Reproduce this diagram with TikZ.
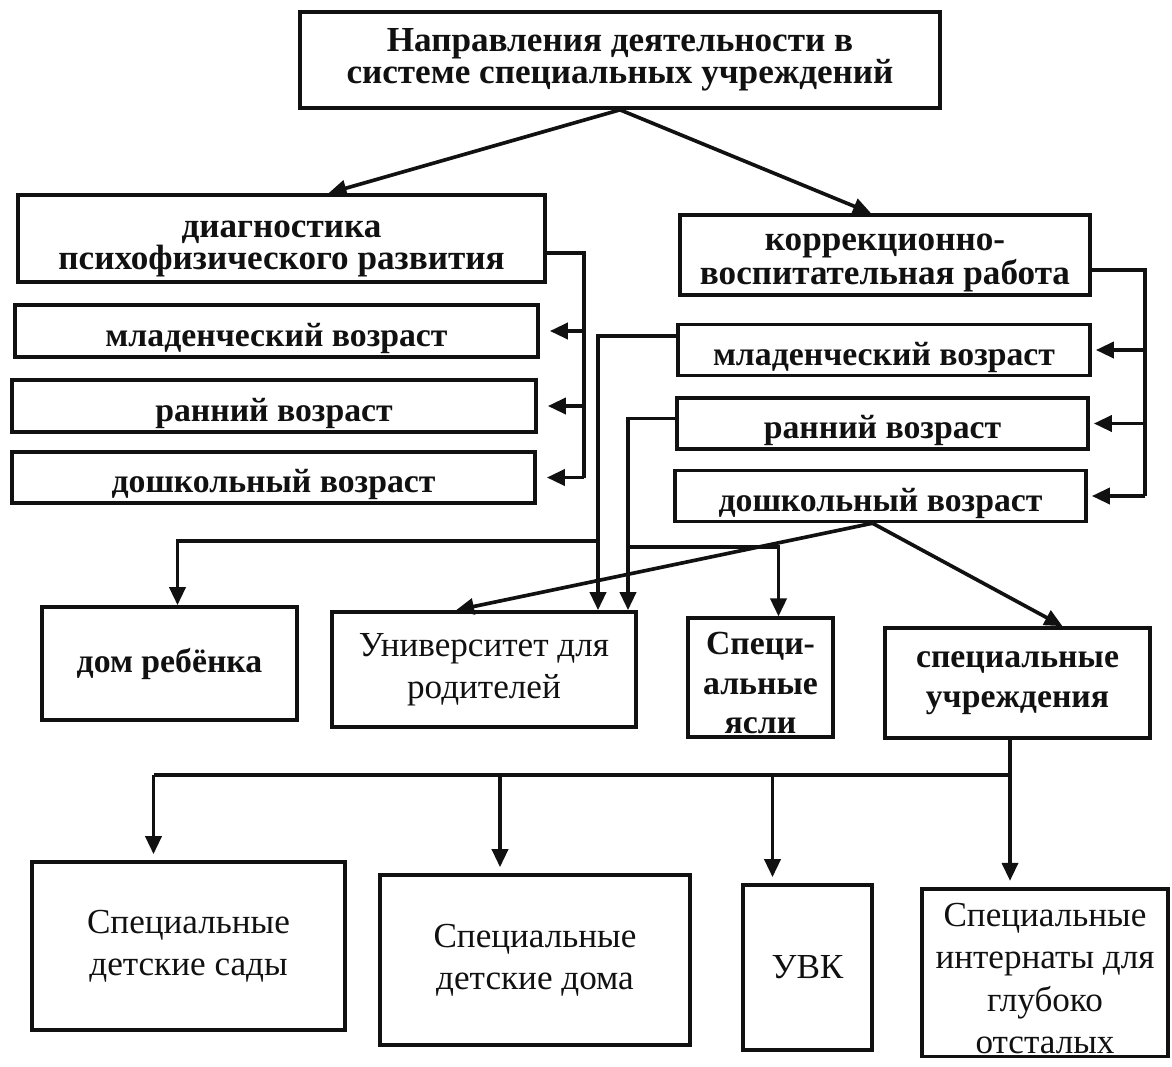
\documentclass[tikz,border=0pt]{standalone}
\usepackage{fontspec}
\setmainfont{Liberation Serif}
\usetikzlibrary{arrows.meta,calc,positioning}
\definecolor{ChartInk}{HTML}{111111}
\definecolor{ChartPaper}{HTML}{FFFFFF}
\tikzset{
  every node/.style={text=ChartInk},
  block/.style={draw=ChartInk, line width=2.6pt, fill=ChartPaper, align=center, inner sep=2pt},
  headbox/.style={block, font=\bfseries\fontsize{25}{23}\selectfont},
  agebox/.style={block, font=\bfseries\fontsize{24}{28}\selectfont,
    execute at begin node={\rule{0pt}{27pt}}},
  servicebox/.style={block, font=\bfseries\fontsize{24}{28}\selectfont},
  placebox/.style={block, font=\fontsize{25}{30}\selectfont},
  link/.style={draw=ChartInk, line width=2.6pt},
  feed/.style={-{Triangle[length=4.5mm,width=4mm]}, draw=ChartInk, line width=2.6pt},
}
\begin{document}
\begin{tikzpicture}[x=0.25mm,y=-0.25mm]
  % 1 unit = 1 pixel of the scan, y runs downwards
  \useasboundingbox (0,0) rectangle (1172,1066);
  \node[headbox, minimum width=160mm, minimum height=24mm] (title) at (620,60)
    {Направления деятельности в\\системе специальных учреждений};
  \node[headbox, minimum width=131.75mm, minimum height=21.75mm] (diag) at (281.5,238.5)
    {\rule{0pt}{27pt}диагностика\\психофизического развития};
  \node[headbox, minimum width=102.5mm, minimum height=20mm] (corr) at (885,255)
    {\rule{0pt}{23pt}коррекционно-\\воспитательная работа};
  % age groups
  \node[agebox, minimum width=130.75mm, minimum height=13mm] (lm) at (276.5,331) {младенческий возраст};
  \node[agebox, minimum width=131mm, minimum height=13mm] (lr) at (274,406) {ранний возраст};
  \node[agebox, minimum width=130.75mm, minimum height=12.75mm] (ld) at (273.5,477.5) {дошкольный возраст};
  \node[agebox, minimum width=103mm, minimum height=12.5mm] (rm) at (884,350) {младенческий возраст};
  \node[agebox, minimum width=102.75mm, minimum height=11.75mm] (rr) at (882.5,423.5) {ранний возраст};
  \node[agebox, minimum width=102.75mm, minimum height=12mm] (rd) at (880.5,496) {дошкольный возраст};
  % services
  \node[servicebox, minimum width=63.75mm, minimum height=28.25mm] (home) at (169.5,663.5) {дом ребёнка};
  \node[placebox, minimum width=76mm, minimum height=28.75mm] (univ) at (484,669.5)
    {Университет для\\родителей};
  \node[servicebox, minimum width=36.25mm, minimum height=28.75mm] (yasli) at (760.5,677.5)
    {\rule{0pt}{24pt}Специ-\\альные\\ясли};
  \node[servicebox, minimum width=66.25mm, minimum height=27.5mm] (spec) at (1017.5,683)
    {специальные\\учреждения};
  \node[placebox, minimum width=78.25mm, minimum height=42mm] (sady) at (188.5,946)
    {Специальные\\детские сады};
  \node[placebox, minimum width=77.5mm, minimum height=42.5mm] (doma) at (535,960)
    {Специальные\\детские дома};
  \node[placebox, minimum width=32.25mm, minimum height=41.25mm] (uvk) at (807.5,967.5) {УВК};
  \node[placebox, minimum width=61.5mm, minimum height=41.25mm] (intern) at (1045,972.5)
    {\rule{0pt}{25pt}Специальные\\интернаты для\\глубоко\\отсталых};

  \draw[feed] (title.south) -- ($(diag.north)+(47,0)$);
  \draw[feed] (title.south) -- ($(corr.north)+(-14,0)$);

  \coordinate (lbus) at (584,253);
  \draw[link] (diag.east |- lbus) -- (lbus) -- (lbus |- ld.east);
  \foreach \n in {lm,lr,ld}
    \draw[feed, shorten >=2.5mm] (lbus |- \n.east) -- (\n.east);

  \coordinate (rbus) at (1145,270);
  \draw[link] (corr.east |- rbus) -- (rbus) -- (rbus |- rd.east);
  \foreach \n in {rm,rr,rd}
    \draw[feed, shorten >=1mm] (rbus |- \n.east) -- (\n.east);

  \coordinate (mcol) at (598,541);
  \coordinate (ecol) at (628,547);
  \draw[feed] ($(rm.west)+(0,-14)$) -| (univ.north -| mcol);
  \draw[feed] ($(rr.west)+(0,-5)$) -| (univ.north -| ecol);
  \draw[feed] (mcol) -| ($(home.north)+(8,0)$);
  \draw[feed] (ecol) -| ($(yasli.north)+(18,0)$);

  \draw[feed] ($(rd.south)+(-8,0)$) -- ($(univ.north)+(-28,0)$);
  \draw[feed] ($(rd.south)+(-8,0)$) -- ($(spec.north)+(45,0)$);

  \coordinate (sbus) at (1010,775);
  \foreach \n in {sady,doma,uvk,intern}
    \coordinate (\n-in) at ($(\n.north)+(-35,0)$);
  \draw[link] (spec.south -| sbus) -- (sbus) -- (sbus -| sady-in);
  \foreach \n in {sady,doma,uvk,intern}
    \draw[feed, shorten >=1.5mm] (sbus -| \n-in) -- (\n-in);
\end{tikzpicture}
\end{document}
